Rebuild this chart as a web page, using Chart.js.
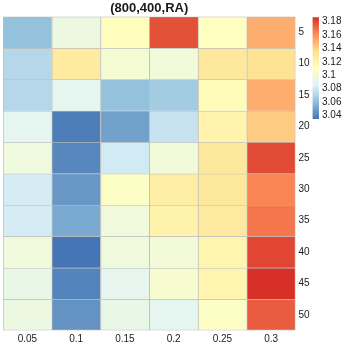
<!DOCTYPE html>
<html>
<head>
<meta charset="utf-8">
<script src="https://cdn.jsdelivr.net/npm/chart.js@4/dist/chart.umd.min.js"></script>
<style>
  html, body { margin: 0; padding: 0; background: #fff; }
  #wrap { position: relative; width: 345px; height: 345px; }
  #heat { position: absolute; left: 0; top: 0; }
  #bar { position: absolute; left: 311px; top: 0; }
</style>
</head>
<body>
<div id="wrap">
  <canvas id="heat" width="345" height="345"></canvas>
  <canvas id="bar" width="34" height="135"></canvas>
</div>
<script>
// columns and rows of the heatmap
const columns = ["0.05", "0.1", "0.15", "0.2", "0.25", "0.3"];
const rows = ["5", "10", "15", "20", "25", "30", "35", "40", "45", "50"];

// cell values, one array per row
const row5  = [3.061, 3.095, 3.112, 3.177, 3.110, 3.151];
const row10 = [3.072, 3.127, 3.102, 3.099, 3.129, 3.133];
const row15 = [3.072, 3.089, 3.061, 3.066, 3.113, 3.151];
const row20 = [3.089, 3.038, 3.050, 3.077, 3.120, 3.142];
const row25 = [3.097, 3.041, 3.081, 3.099, 3.129, 3.179];
const row30 = [3.082, 3.047, 3.108, 3.125, 3.129, 3.163];
const row35 = [3.082, 3.053, 3.098, 3.121, 3.128, 3.167];
const row40 = [3.098, 3.035, 3.098, 3.100, 3.119, 3.180];
const row45 = [3.093, 3.040, 3.090, 3.103, 3.119, 3.186];
const row50 = [3.095, 3.045, 3.093, 3.089, 3.108, 3.174];
const grid = [row5, row10, row15, row20, row25, row30, row35, row40, row45, row50];

// colour legend
const legendMin = 3.035;
const legendMax = 3.186;
const legendTicks = [3.04, 3.06, 3.08, 3.1, 3.12, 3.14, 3.16, 3.18];

const title = "(800,400,RA)";

// rev(brewer RdYlBu 7)
const palette = ["#4575b4", "#91bfdb", "#e0f3f8", "#ffffbf", "#fee090", "#fc8d59", "#d73027"];

function hex(c) {
    return [1, 3, 5].map(i => parseInt(c.slice(i, i + 2), 16));
}

function colorFor(v) {
    let t = (v - legendMin) / (legendMax - legendMin);
    t = Math.max(0, Math.min(1, t)) * (palette.length - 1);
    const i = Math.min(Math.floor(t), palette.length - 2);
    const f = t - i;
    const a = hex(palette[i]), b = hex(palette[i + 1]);
    const c = a.map((x, k) => Math.round(x + (b[k] - x) * f));
    return "rgb(" + c.join(",") + ")";
}

const font = { family: "'Liberation Sans', Arial, sans-serif", size: 10 };
const textColor = "#1a1a1a";

const heatCtx = document.getElementById("heat").getContext("2d");
const heatChart = new Chart(heatCtx, {
    type: "bar",
    data: {
        labels: columns,
        datasets: rows.map((r, i) => ({
            label: r,
            data: columns.map(() => 1), // every cell is one unit tall
            backgroundColor: grid[i].map(colorFor),
            borderColor: "#bdbdbd",
            borderSkipped: false,
            borderWidth: ctx => ({
                top: 1,
                left: 1,
                right: ctx.dataIndex === columns.length - 1 ? 1 : 0,
                bottom: ctx.datasetIndex === rows.length - 1 ? 1 : 0,
            }),
            barPercentage: 1,
            categoryPercentage: 1,
        })),
    },
    options: {
        responsive: false,
        animation: false,
        layout: { padding: { left: 3, top: 0, right: 0, bottom: 0 } },
        plugins: {
            legend: { display: false },
            tooltip: { enabled: false },
            title: {
                display: true,
                text: title,
                fullSize: false,
                color: textColor,
                font: { family: font.family, size: 13, weight: "bold" },
                padding: { top: 1, bottom: 0 },
            },
        },
        scales: {
            x: {
                stacked: true,
                grid: { display: false, drawTicks: false },
                border: { display: false },
                ticks: { color: textColor, font: font, padding: 3, maxRotation: 0, autoSkip: false },
                afterFit: axis => { axis.height = 14.5; },
            },
            y: {
                stacked: true,
                position: "right",
                reverse: true,
                min: 0,
                max: rows.length,
                grid: { display: false, drawTicks: false },
                border: { display: false },
                afterBuildTicks: axis => {
                    axis.ticks = rows.map((r, i) => ({ value: i + 0.5 }));
                },
                ticks: {
                    color: textColor,
                    font: font,
                    padding: 3,
                    autoSkip: false,
                    callback: (v) => rows[Math.floor(v)],
                },
                afterFit: axis => { axis.width = 49.5; },
            },
        },
    },
});

// colour bar
const barCtx = document.getElementById("bar").getContext("2d");
const barChart = new Chart(barCtx, {
    type: "bar",
    data: {
        labels: [""],
        datasets: [
            {
                data: [[legendMin, legendMax]],
                backgroundColor: ctx => {
                    const chart = ctx.chart;
                    const y = chart.scales.y;
                    if (!y || !chart.chartArea) return palette[3];
                    const g = chart.ctx.createLinearGradient(0, y.getPixelForValue(legendMin), 0, y.getPixelForValue(legendMax));
                    palette.forEach((c, i) => g.addColorStop(i / (palette.length - 1), c));
                    return g;
                },
                borderWidth: 0,
                barPercentage: 1,
                categoryPercentage: 1,
            },
        ],
    },
    options: {
        responsive: false,
        animation: false,
        layout: { padding: { left: 1.5, top: 17.3, right: 0, bottom: 16 } },
        plugins: {
            legend: { display: false },
            tooltip: { enabled: false },
        },
        scales: {
            x: { display: false },
            y: {
                position: "right",
                min: legendMin,
                max: legendMax,
                grid: { display: false, drawTicks: false },
                border: { display: false },
                afterBuildTicks: axis => {
                    axis.ticks = legendTicks.map(v => ({ value: v }));
                },
                ticks: {
                    color: textColor,
                    font: font,
                    padding: 3,
                    autoSkip: false,
                    callback: v => String(Number(v.toFixed(2))),
                },
                afterFit: axis => { axis.width = 26; },
            },
        },
    },
});
</script>
</body>
</html>
